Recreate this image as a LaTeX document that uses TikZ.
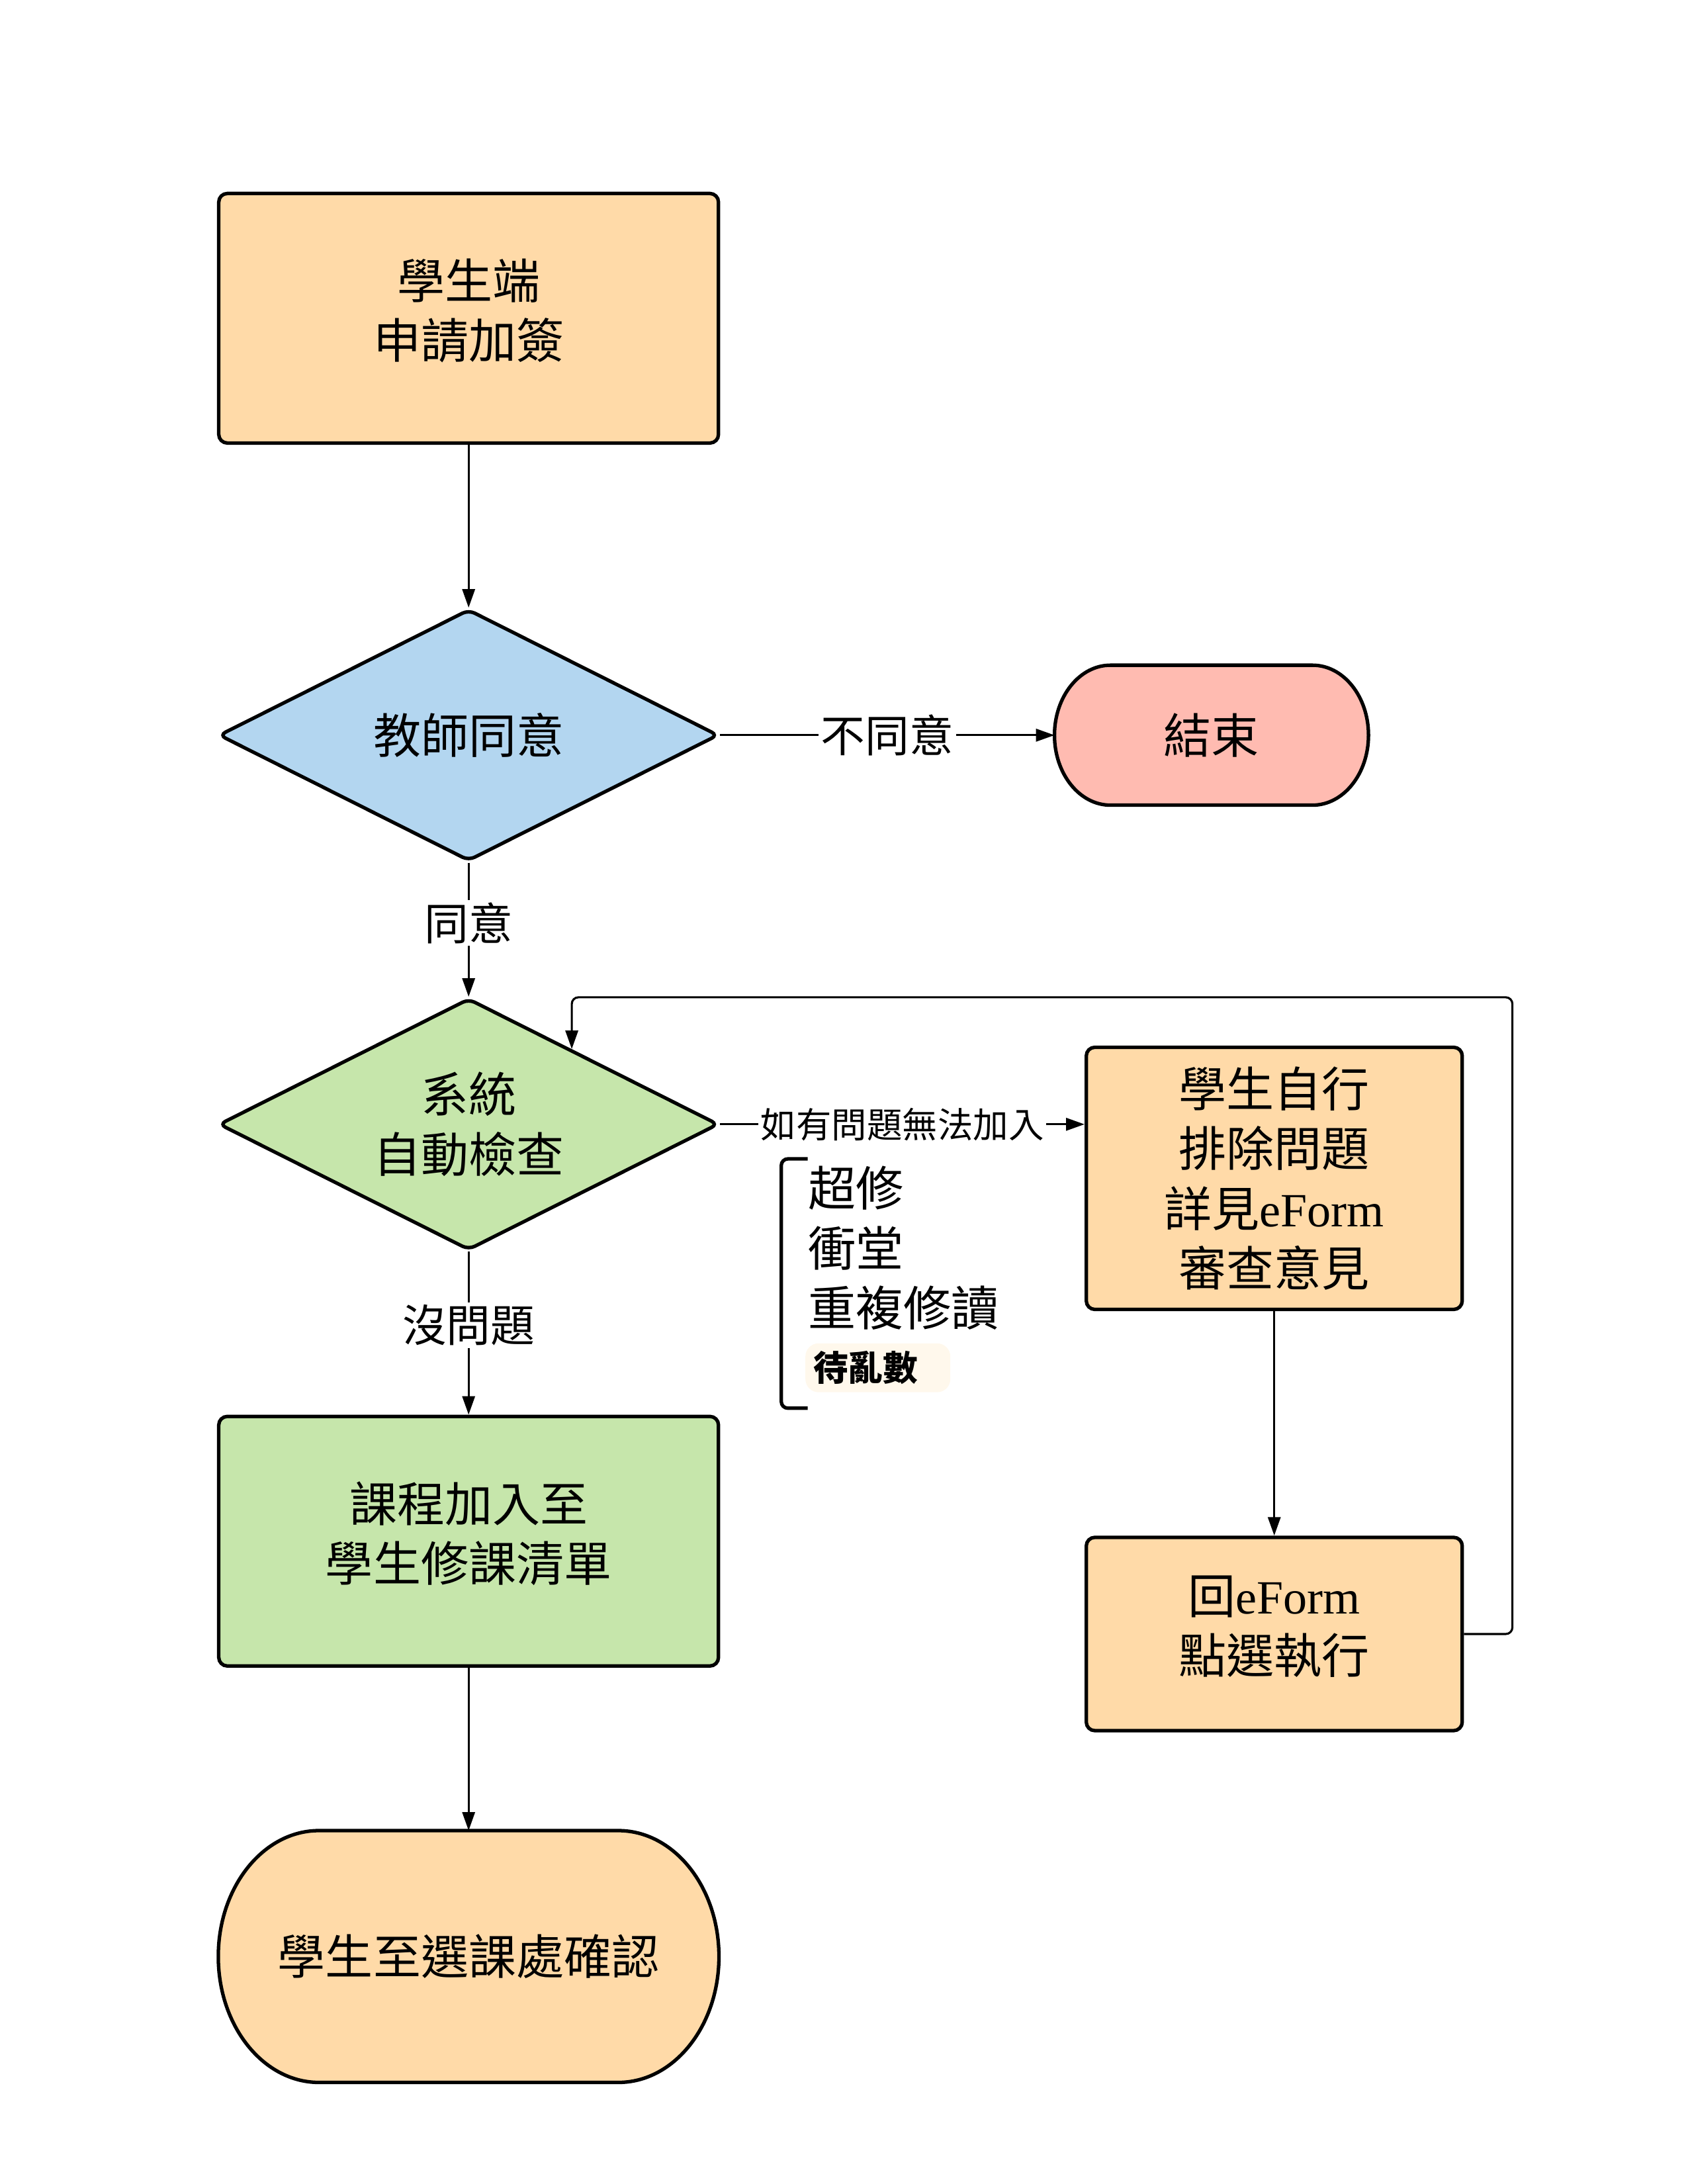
\documentclass[tikz,border=0pt]{standalone}
\usepackage{fontspec}
\setmainfont{Noto Sans CJK TC}
\newfontfamily\lat{Liberation Serif}
\usepackage{tikz}
\usetikzlibrary{arrows.meta,
                backgrounds,
                calc,
                positioning,
                shapes.geometric}
\definecolor{peach}{RGB}{255,218,168}
\definecolor{sky}{RGB}{179,214,240}
\definecolor{rose}{RGB}{255,187,177}
\definecolor{leaf}{RGB}{198,230,171}
\definecolor{cream}{RGB}{255,248,236}
% outline of a terminal node: flat top and bottom, half ellipses at the sides
\newcommand\capsule[2]{%
  \draw[line width=1.5pt, fill=#2]
    let \p1=(#1.north west), \p2=(#1.south east),
        \n1={0.4*(\y1-\y2)}, \n2={0.5*(\y1-\y2)} in
    (\x1+\n1,\y1) -- (\x2-\n1,\y1)
    arc[start angle=90, end angle=-90, x radius=\n1, y radius=\n2]
    -- (\x1+\n1,\y2)
    arc[start angle=270, end angle=90, x radius=\n1, y radius=\n2] -- cycle;}

\begin{document}
\begin{tikzpicture}[
x=0.2104mm, y=-0.2104mm,
node distance = 25mm,
   BOX/.style = {draw, line width=1.5pt, rounded corners=1.3mm, align=center,
                 inner sep=0pt, font=\fontsize{20.5}{25.7}\selectfont},
   DMD/.style = {diamond, draw, line width=1.5pt, rounded corners=1mm, aspect=2,
                 minimum width=75.5mm, minimum height=38mm, align=center,
                 inner sep=0pt, font=\fontsize{20.5}{25.7}\selectfont},
   TRM/.style = {align=center, inner sep=0pt,
                 font=\fontsize{20.5}{25.7}\selectfont},
   LNK/.style = {line width=0.9pt, -{Triangle[length=2.8mm, width=1.9mm]}},
   LBL/.style = {fill=white, inner sep=1pt, font=\fontsize{19}{23}\selectfont},
    UP/.style = {text depth=2.9mm},
    CP/.style = {fill=peach},  %fill  Color Peach
    CG/.style = {fill=leaf}    %fill  Color Green
                        ]
\useasboundingbox (0,0) rectangle (1212,1568);
% main column
\node (req)  [BOX, CP, UP, minimum width=75.5mm, minimum height=37.7mm]
             at (336.5,228.5) {學生端\\申請加簽};
\node (tchr) [DMD, fill=sky, below=24.6mm of req] {教師同意};
\node (auto) [DMD, fill=leaf, below=20.25mm of tchr] {系統\\自動檢查};
\node (add)  [BOX, CG, UP, minimum width=75.5mm, minimum height=37.7mm,
              below=24.6mm of auto] {課程加入至\\學生修課清單};
\node (cfm)  [TRM, minimum width=75.5mm, minimum height=37.9mm,
              below=24.6mm of add] {學生至選課處確認};
\node (fin)  [TRM, minimum width=47.3mm, minimum height=21mm,
              right=50.5mm of tchr] {結束};
% right column
\node (fix)  [BOX, CP, minimum width=56.8mm, minimum height=39.6mm]
             at (915,846) {學生自行\\排除問題\\詳見{\lat eForm}\\審查意見};
\node (back) [BOX, CP, UP, minimum width=56.8mm, minimum height=29.2mm,
              below=33.9mm of fix] {回{\lat eForm}\\點選執行};
% reasons
\node (why)  [anchor=west, align=left, inner sep=0pt,
              font=\fontsize{20.5}{25.7}\selectfont] at (580,896)
             {超修\\衝堂\\重複修讀};
\node (tag)  [anchor=west, fill=cream, rounded corners=2mm, text width=19.5mm,
              inner xsep=1.2mm, minimum height=6.3mm, align=left,
              font=\fontsize{15}{18}\selectfont\bfseries] at (578,982) {待亂數};
\draw[line width=1.5pt, rounded corners=1mm] (580,832) -| (561,1011) -- (580,1011);
% terminal outlines
\begin{scope}[on background layer]
\capsule{fin}{rose}
\capsule{cfm}{peach}
\end{scope}
% links
\coordinate (in) at ($(auto.north)!0.41!(auto.east)$);
\draw[LNK] (req) -- (tchr);
\draw[LNK] (tchr) -- node[LBL] {不同意} (fin);
\draw[LNK] (tchr) -- node[LBL, pos=0.45] {同意} (auto);
\draw[LNK] (auto) -- node[LBL, pos=0.45] {沒問題} (add);
\draw[LNK] (add) -- (cfm);
\draw[LNK] (auto.east) -- node[LBL, font=\fontsize{15.2}{18}\selectfont] {如有問題無法加入}
           (auto.east -| fix.west);
\draw[LNK] (fix) -- (back);
\draw[LNK, rounded corners=1mm] (back.east) -| (1086,716) -| (in);
\end{tikzpicture}
\end{document}
